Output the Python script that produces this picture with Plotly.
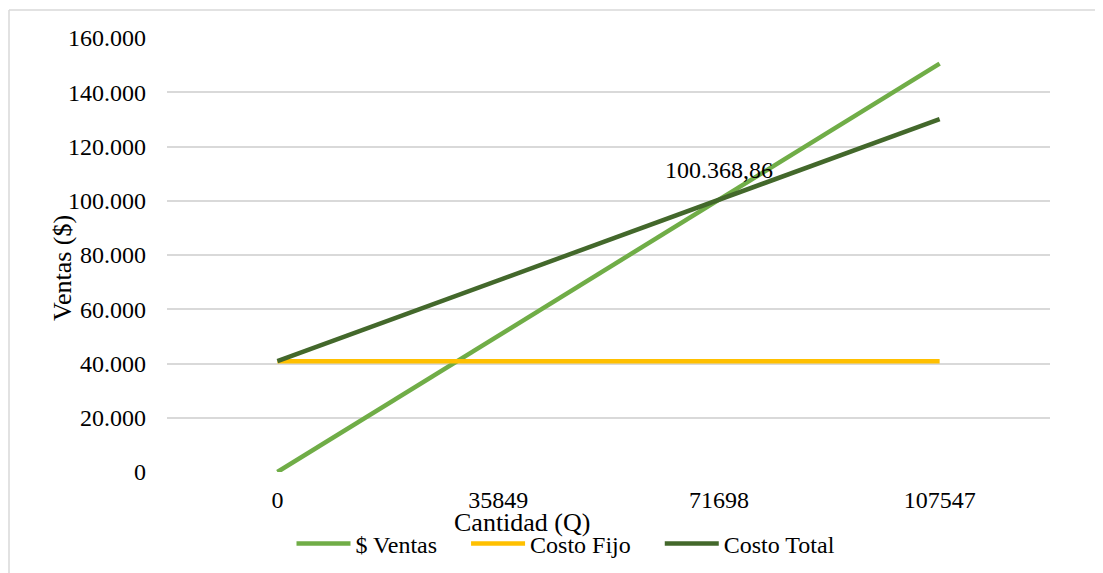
import plotly.graph_objects as go

cantidad = ["0", "35849", "71698", "107547"]
ventas = [0, 50184.43, 100368.86, 150553.29]
costo_fijo = [40860, 40860, 40860, 40860]
costo_total = [40860, 70614.43, 100368.86, 130123.29]
punto_equilibrio = 100368.86
y_ticks = [0, 20000, 40000, 60000, 80000, 100000, 120000, 140000, 160000]
series_names = ["$ Ventas", "Costo Fijo", "Costo Total"]

FONT = "Liberation Serif"
OFF = 8  # page body margin
W, H = 1103 - OFF, 573 - OFF
# plot area in reference (screen) pixels
L, R, T, B = 167, 1050, 38, 472

def px(xp):
    return (xp - L) / (R - L)

def py(yp):
    return (B - yp) / (B - T)

PAD = "\u00a0" * 4
fig = go.Figure()
fig.add_trace(go.Scatter(x=cantidad, y=ventas, name=series_names[0] + PAD, mode="lines",
                         line=dict(color="#70AD47", width=4.5)))
fig.add_trace(go.Scatter(x=cantidad, y=costo_fijo, name=series_names[1] + PAD, mode="lines",
                         line=dict(color="#FFC000", width=4.5)))
fig.add_trace(go.Scatter(x=cantidad, y=costo_total, name=series_names[2], mode="lines",
                         line=dict(color="#43682B", width=4.5)))

label = f"{punto_equilibrio:,.2f}".replace(",", "X").replace(".", ",").replace("X", ".")
fig.add_annotation(x=cantidad.index("71698"), y=punto_equilibrio, xref="x", yref="y",
                   text=label, showarrow=False, yshift=30,
                   font=dict(family=FONT, size=24, color="#000000"))

# axis titles
fig.add_annotation(xref="paper", yref="paper", x=px(522), y=py(522), text="Cantidad (Q)",
                   showarrow=False, xanchor="center", yanchor="middle",
                   font=dict(family=FONT, size=26, color="#000000"))
fig.add_annotation(xref="paper", yref="paper", x=px(62), y=py(268), text="Ventas ($)",
                   showarrow=False, xanchor="center", yanchor="middle", textangle=-90,
                   font=dict(family=FONT, size=26, color="#000000"))

# chart area border (top and left visible)
fig.add_shape(type="line", xref="paper", yref="paper", x0=px(9), x1=px(1110), y0=py(10), y1=py(10),
              line=dict(color="#D9D9D9", width=1.5))
fig.add_shape(type="line", xref="paper", yref="paper", x0=px(9), x1=px(9), y0=py(10), y1=py(600),
              line=dict(color="#D9D9D9", width=1.5))

fig.update_layout(
    width=W, height=H,
    margin=dict(l=L - OFF, r=W - (R - OFF), t=T - OFF, b=H - (B - OFF), autoexpand=False),
    paper_bgcolor="white", plot_bgcolor="white",
    separators=",.",
    font=dict(family=FONT, size=24, color="#000000"),
    showlegend=True,
    legend=dict(orientation="h", x=px(566), xanchor="center", y=py(544), yanchor="middle",
                font=dict(family=FONT, size=24, color="#000000"), itemwidth=54,
                traceorder="normal", tracegroupgap=0, bgcolor="rgba(0,0,0,0)"),
)
fig.update_xaxes(type="category", range=[-0.5, 3.5], showgrid=False, showline=False,
                 zeroline=False, ticks="", ticklabelstandoff=11,
                 tickfont=dict(family=FONT, size=24, color="#000000"))
fig.update_yaxes(range=[0, 160000], tickvals=y_ticks, tickformat=",", showgrid=True,
                 gridcolor="#D9D9D9", gridwidth=1.5, zeroline=False, showline=False,
                 ticks="", ticklabelstandoff=20,
                 tickfont=dict(family=FONT, size=24, color="#000000"))

fig.write_html("out.html")
